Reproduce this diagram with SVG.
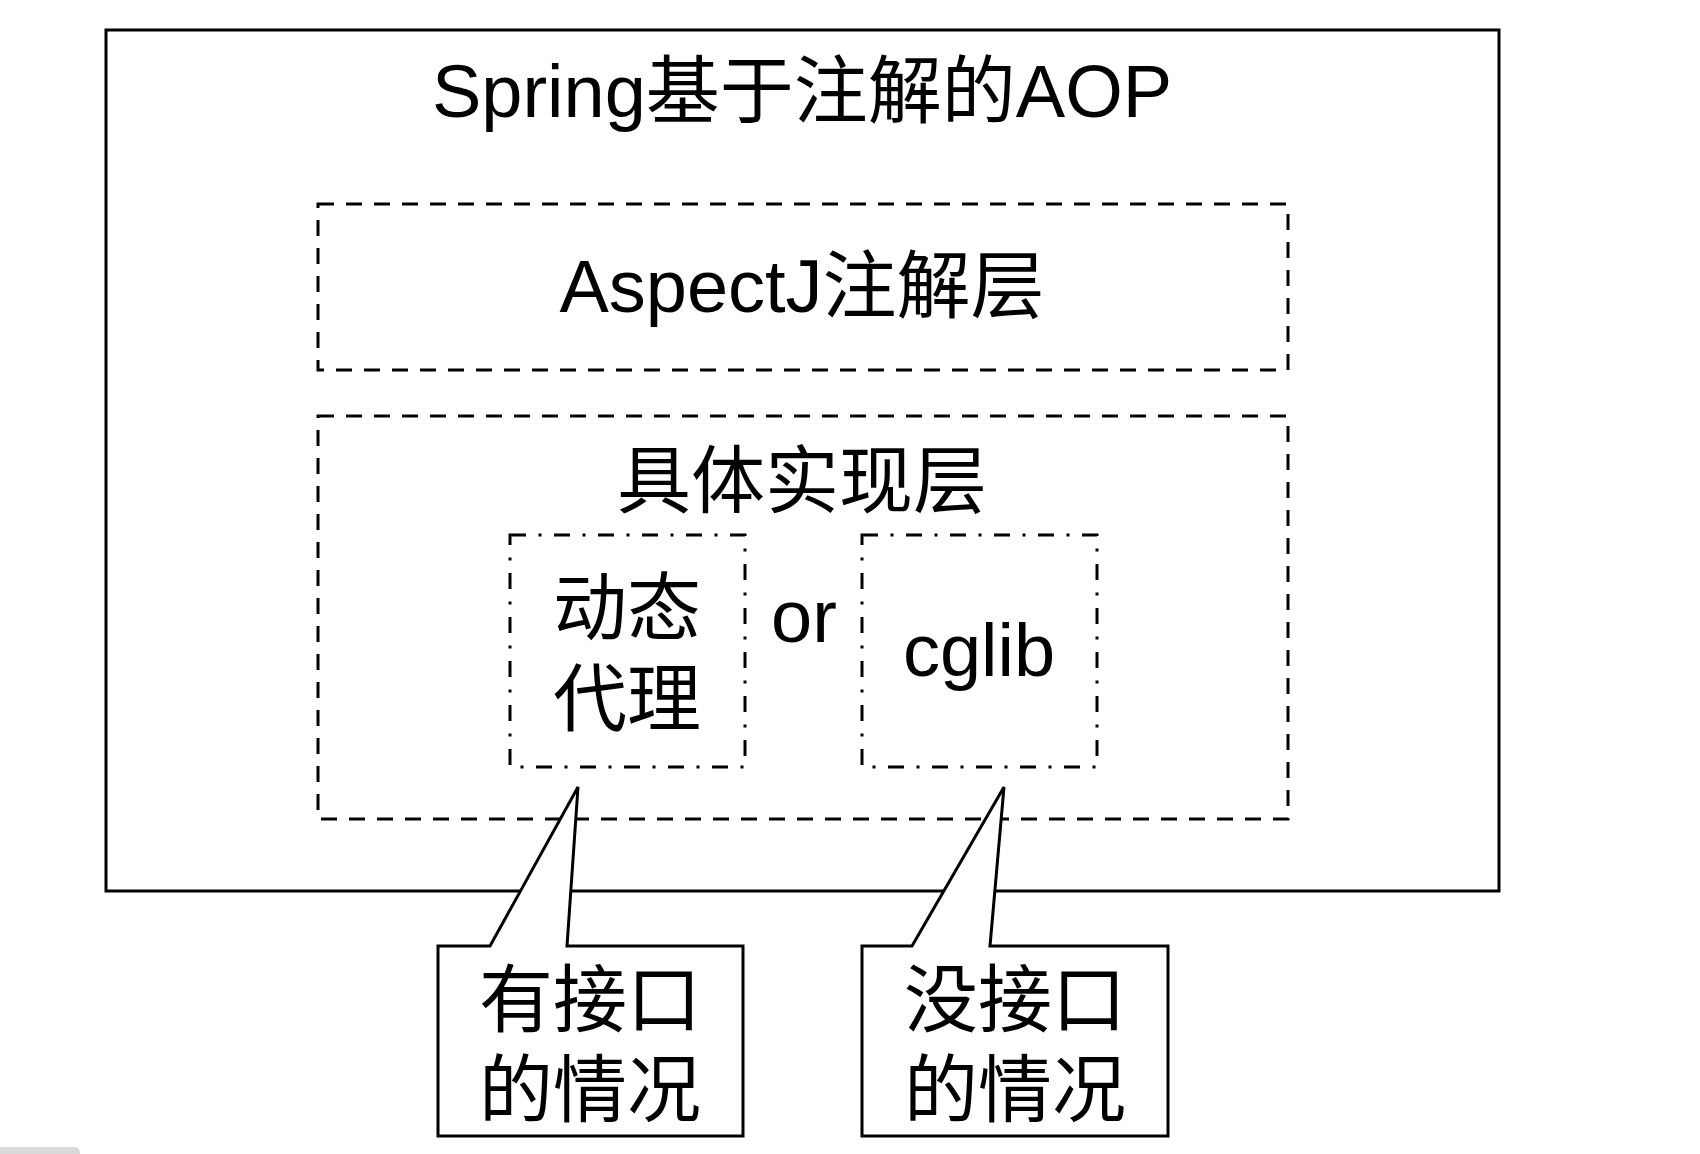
<svg xmlns="http://www.w3.org/2000/svg" width="1700" height="1154" viewBox="0 0 1700 1154">
<style>
text{font-family:"Liberation Sans","Noto Sans CJK SC",sans-serif;font-size:74px;fill:#000;text-anchor:middle}
.solid{fill:#fff;stroke:#000;stroke-width:3}
.dash{fill:none;stroke:#000;stroke-width:3;stroke-dasharray:16 12}
.dashdot{fill:none;stroke:#000;stroke-width:3;stroke-dasharray:16 12.5 3 12.5}
.callout{fill:#fff;stroke:#000;stroke-width:3;stroke-linejoin:miter}
</style>
<rect width="1700" height="1154" fill="#fff"/>
<g id="outer">
<rect class="solid" x="106" y="30" width="1393" height="861"/>
<text x="802" y="117">Spring基于注解的AOP</text>
</g>
<g id="aspectj-layer">
<rect class="dash" x="318" y="204" width="970" height="166"/>
<text x="802" y="312">AspectJ注解层</text>
</g>
<g id="impl-layer">
<rect class="dash" x="318" y="416" width="970" height="403"/>
<text x="802" y="507">具体实现层</text>
</g>
<g id="dynamic-proxy">
<rect class="dashdot" x="510" y="535" width="235" height="232"/>
<text x="627" y="634">动态</text>
<text x="627" y="725">代理</text>
</g>
<g id="or-label">
<text x="804" y="642">or</text>
</g>
<g id="cglib">
<rect class="dashdot" x="862" y="535" width="235" height="232"/>
<text x="979" y="676">cglib</text>
</g>
<g id="connectors"></g>
<g id="callout-interface">
<path class="callout" d="M438,946 L490,946 L578,787 L567,946 L743,946 L743,1136 L438,1136 Z"/>
<text x="590" y="1026">有接口</text>
<text x="590" y="1116">的情况</text>
</g>
<g id="callout-no-interface">
<path class="callout" d="M862,946 L912,946 L1004,787 L990,946 L1168,946 L1168,1136 L862,1136 Z"/>
<text x="1015" y="1026">没接口</text>
<text x="1015" y="1116">的情况</text>
</g>
<path d="M0,1147 H74 Q80,1147 80,1153 V1154 H0 Z" fill="#d9d9d9"/>
</svg>
